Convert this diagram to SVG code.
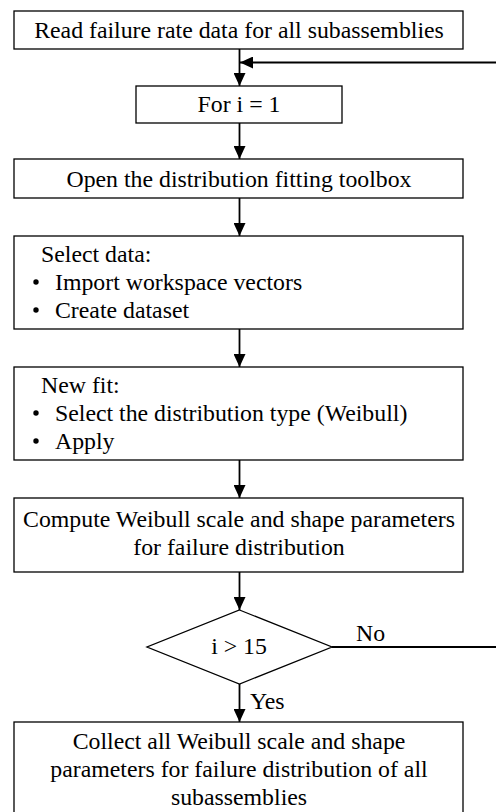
<svg xmlns="http://www.w3.org/2000/svg" width="496" height="812" viewBox="0 0 496 812">
<defs>
<marker id="ah" markerUnits="userSpaceOnUse" markerWidth="14" markerHeight="12" refX="13" refY="6" orient="auto">
<path d="M0,0 L13,6 L0,12 z" fill="#000"/>
</marker>
<style>
.box{fill:#fff;stroke:#000;stroke-width:1.3}
.t{font-family:"Liberation Serif","Times New Roman",serif;font-size:23.8px;fill:#000}
.c{text-anchor:middle}
.ln{fill:none;stroke:#000;stroke-width:1.8}
.ar{fill:none;stroke:#000;stroke-width:1.8;marker-end:url(#ah)}
</style>
</defs>
<rect width="496" height="812" fill="#fff"/>
<g id="connectors">
<path class="ar" d="M239.5,49 V86"/>
<path class="ar" d="M500,62.5 H240"/>
<path class="ar" d="M239.5,123 V159"/>
<path class="ar" d="M239.5,198 V236"/>
<path class="ar" d="M239.5,329 V367"/>
<path class="ar" d="M239.5,460 V498"/>
<path class="ar" d="M239.5,572 V610"/>
<path class="ln" d="M332,647 H500"/>
<path class="ar" d="M239.5,684 V722"/>
<text class="t" x="356" y="640.5">No</text>
<text class="t" x="250" y="708.5">Yes</text>
</g>
<g id="n1">
<rect class="box" x="14" y="11" width="449" height="38"/>
<text class="t c" x="239" y="37.8">Read failure rate data for all subassemblies</text>
</g>
<g id="n2">
<rect class="box" x="136" y="86" width="206" height="37"/>
<text class="t c" x="239" y="112">For i = 1</text>
</g>
<g id="n3">
<rect class="box" x="14" y="159" width="449" height="39"/>
<text class="t c" x="239" y="186.5">Open the distribution fitting toolbox</text>
</g>
<g id="n4">
<rect class="box" x="14" y="236" width="449" height="93"/>
<text class="t" x="41" y="262">Select data:</text>
<circle cx="36" cy="282" r="2.7"/>
<text class="t" x="55" y="289.5">Import workspace vectors</text>
<circle cx="36" cy="310" r="2.7"/>
<text class="t" x="55" y="317.5">Create dataset</text>
</g>
<g id="n5">
<rect class="box" x="14" y="367" width="449" height="93"/>
<text class="t" x="41" y="392.5">New fit:</text>
<circle cx="36" cy="413" r="2.7"/>
<text class="t" x="55" y="420.5">Select the distribution type (Weibull)</text>
<circle cx="36" cy="441" r="2.7"/>
<text class="t" x="55" y="448.5">Apply</text>
</g>
<g id="n6">
<rect class="box" x="14" y="498" width="449" height="74"/>
<text class="t c" x="239" y="527">Compute Weibull scale and shape parameters</text>
<text class="t c" x="239" y="555">for failure distribution</text>
</g>
<g id="n7">
<path class="box" d="M239.5,610 L332,647 L239.5,684 L147,647 Z"/>
<text class="t c" x="239" y="653.5">i &gt; 15</text>
</g>
<g id="n8">
<rect class="box" x="14" y="722" width="449" height="110"/>
<text class="t c" x="239" y="748.5">Collect all Weibull scale and shape</text>
<text class="t c" x="239" y="776.5">parameters for failure distribution of all</text>
<text class="t c" x="239" y="804.5">subassemblies</text>
</g>
</svg>
